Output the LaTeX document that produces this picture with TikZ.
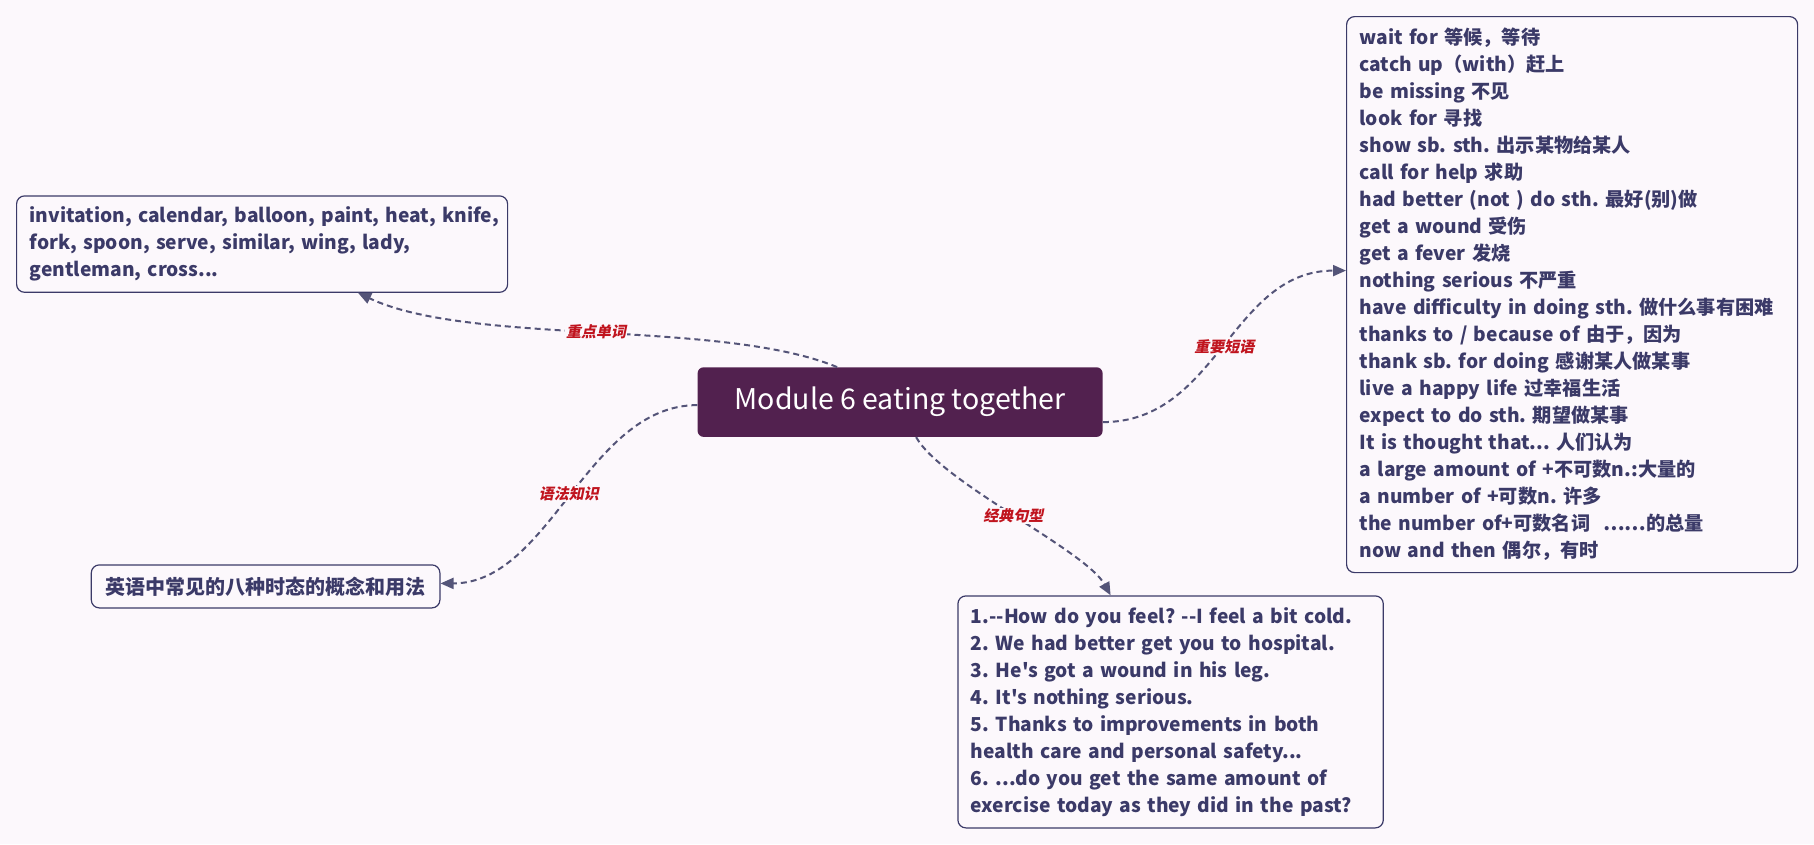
\documentclass[tikz,border=0pt]{standalone}
\usepackage{fontspec}
\usepackage{tikz}
\usetikzlibrary{arrows.meta}
\newfontfamily\mapfont{Noto Sans CJK SC}
\newfontfamily\tagfont[FakeSlant=0.2]{Noto Sans CJK SC}
\definecolor{Paper}{HTML}{FCF8FC}
\definecolor{Plum}{HTML}{52214F}
\definecolor{Ink}{HTML}{3B3A68}
\definecolor{Wire}{HTML}{545478}
\definecolor{Tag}{HTML}{C0141E}
\frenchspacing

\begin{document}
\begin{tikzpicture}[x=1pt,y=-1pt,
  topic/.style={fill=Plum,rounded corners=6pt,text=white,font=\mapfont\fontsize{28.5}{32}\selectfont,minimum width=405pt,minimum height=69.6pt,inner sep=0pt},
  leaf/.style={draw=Ink,line width=1.2pt,rounded corners=8pt,fill=Paper,text=Ink,font=\mapfont\bfseries\fontsize{19.2}{27}\selectfont,align=left,inner xsep=13pt,inner ysep=0pt,anchor=north west},
  link/.style={-{Triangle[length=13pt,width=11pt]},line width=2pt,draw=Wire,dash pattern=on 6pt off 4pt},
  tag/.style={font=\tagfont\bfseries\fontsize{15}{18}\selectfont,text=Tag,fill=Paper,inner sep=1pt}
]
\fill[Paper] (0,0) rectangle (1814,844);

\node[topic] (root) at (900.1,402.1) {Module 6 eating together};
\node[leaf,text width=465pt,minimum height=96.4pt] (words) at (16,195.3)
  {\mbox{invitation, calendar, balloon, paint, heat, knife,}\\
   fork, spoon, serve, similar, wing, lady,\\
   gentleman, cross...};
\node[leaf,text width=425pt,minimum height=556pt] (phrase) at (1346,16)
  {wait for 等候，等待\\
   catch up（with）赶上\\
   be missing 不见\\
   look for 寻找\\
   show sb. sth. 出示某物给某人\\
   call for help 求助\\
   had better (not ) do sth. 最好(别)做\\
   get a wound 受伤\\
   get a fever 发烧\\
   nothing serious 不严重\\
   have difficulty in doing sth. 做什么事有困难\\
   thanks to / because of 由于，因为\\
   thank sb. for doing 感谢某人做某事\\
   live a happy life 过幸福生活\\
   expect to do sth. 期望做某事\\
   It is thought that... 人们认为\\
   a large amount of +不可数n.:大量的\\
   a number of +可数n. 许多\\
   the number of+可数名词\ \ ……的总量\\
   now and then 偶尔，有时};
\node[leaf,font=\mapfont\bfseries\fontsize{20}{27}\selectfont,minimum width=348.6pt,minimum height=43pt] (grammar) at (90.7,564.3)
  {英语中常见的八种时态的概念和用法};
\node[leaf,text width=399.4pt,minimum height=232pt] (sentence) at (957.3,595.3)
  {1.--How do you feel? --I feel a bit cold.\\
   2. We had better get you to hospital.\\
   3. He's got a wound in his leg.\\
   4. It's nothing serious.\\
   5. Thanks to improvements in both\\
   health care and personal safety...\\
   6. ...do you get the same amount of\\
   exercise today as they did in the past?};

% branches
\draw[link] ([xshift=-63pt]root.north) .. controls +(-116,-48) and +(112,53) .. ([xshift=96pt]words.south)
  node[tag,pos=0.5] {重点单词};
\draw[link] ([yshift=-20pt]root.east) .. controls +(115,0) and +(-115,0) .. ([yshift=24pt]phrase.west)
  node[tag,pos=0.5] {重要短语};
\draw[link] ([yshift=-3pt]root.west) .. controls +(-110,0) and +(110,0) .. ([yshift=3pt]grammar.east)
  node[tag,pos=0.5] {语法知识};
\draw[link] ([xshift=16pt]root.south) .. controls +(25,45) and +(-25,-45) .. ([xshift=-60pt]sentence.north)
  node[tag,pos=0.5] {经典句型};
\end{tikzpicture}
\end{document}
